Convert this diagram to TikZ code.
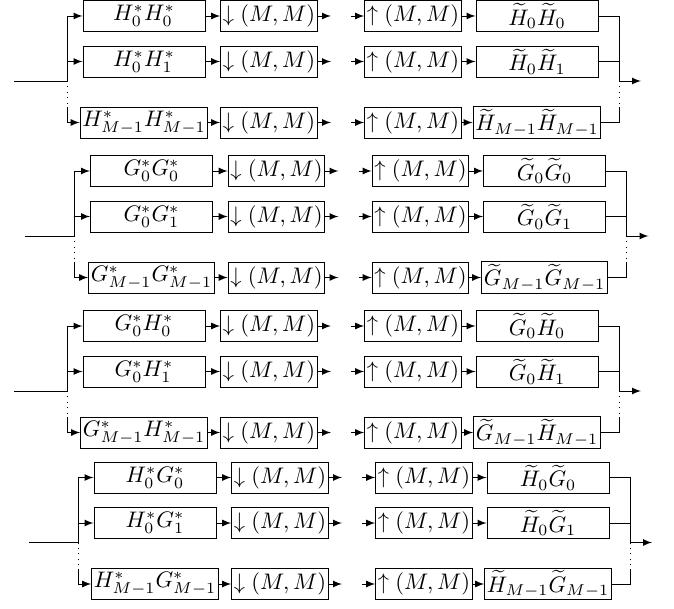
\documentclass[tikz,border=0pt]{standalone}
\usepackage{tikz}
\usepackage{amsmath}
\usetikzlibrary{%
  arrows
}

\begin{document}
\begin{tikzpicture}[x=0.445pt, y=-0.445pt, >=latex,
    filt/.style={draw, inner sep=1pt, minimum height=13.8pt, minimum width=54.3pt},
    samp/.style={draw, inner sep=1pt, minimum height=13.8pt, minimum width=41.8pt}]
    \useasboundingbox (0,0) rectangle (674,608);

    \foreach \blk/\Fa/\Fb/\dx/\cy/\xin in {1/H/H/0/16/14, 2/G/G/7.5/171/25,
        3/G/H/0/326/14, 4/H/G/11/477.5/29} {
      \foreach \row/\ia/\ib/\dy in {1/0/0/0, 2/0/1/45.5, 3/M-1/M-1/106.5} {
        \node[filt] (f\blk-\row) at (\dx+144,\cy+\dy) {$\Fa^*_{\ia}\Fb^*_{\ib}$};
        \node[samp] (dn\blk-\row) at (\dx+269,\cy+\dy) {$\downarrow(M,M)$};
        \node[samp] (up\blk-\row) at (\dx+413,\cy+\dy) {$\uparrow(M,M)$};
        \node[filt] (g\blk-\row) at (\dx+537,\cy+\dy) {$\widetilde{\Fa}_{\ia}\widetilde{\Fb}_{\ib}$};
        \coordinate (o\blk-\row) at (\dx+331,\cy+\dy);
        \coordinate (i\blk-\row) at (\dx+351,\cy+\dy);
        \draw[->] (f\blk-\row) -- (dn\blk-\row);
        \draw[->] (dn\blk-\row) -- (o\blk-\row);
        \draw[->] (i\blk-\row) -- (up\blk-\row);
        \draw[->] (up\blk-\row) -- (g\blk-\row);
      }

      % input branches
      \coordinate (in\blk) at (\xin,\cy+65);
      \coordinate (br\blk) at (\dx+67,\cy+65);
      \coordinate (bd\blk) at (\dx+67,\cy+91);
      \draw (in\blk) -- (br\blk);
      \draw[->] (br\blk) |- (f\blk-1);
      \draw[->] (br\blk) |- (f\blk-2);
      \draw[dotted] (br\blk) -- (bd\blk);
      \draw[->] (bd\blk) |- (f\blk-3);

      % output sum
      \coordinate (mg\blk) at (\dx+619,\cy+65);
      \coordinate (md\blk) at (\dx+619,\cy+91);
      \coordinate (out\blk) at (\dx+641,\cy+65);
      \draw (g\blk-1) -| (mg\blk);
      \draw (g\blk-2) -| (mg\blk);
      \draw[dotted] (mg\blk) -- (md\blk);
      \draw (g\blk-3) -| (md\blk);
      \draw[->] (mg\blk) -- (out\blk);
    }

  \end{tikzpicture}
\end{document}
